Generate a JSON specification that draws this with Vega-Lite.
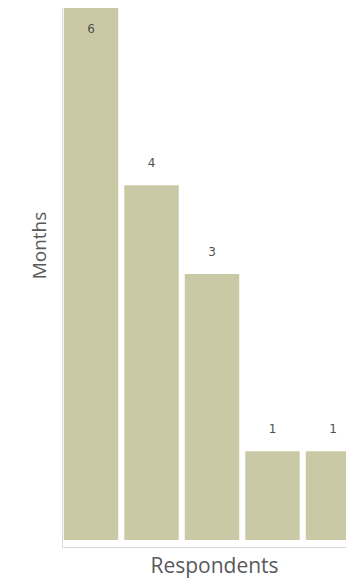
{
  "$schema": "https://vega.github.io/schema/vega-lite/v6.json",
  "autosize": {"type": "none"},
  "padding": {"left": 62, "top": 8, "right": 0, "bottom": 36},
  "width": 300,
  "height": 539,
  "background": "#ffffff",
  "config": {"view": {"stroke": null}},
  "data": {
    "values": [
      {"respondent": "R1", "months": 6},
      {"respondent": "R2", "months": 4},
      {"respondent": "R3", "months": 3},
      {"respondent": "R4", "months": 1},
      {"respondent": "R5", "months": 1}
    ]
  },
  "encoding": {
    "x": {
      "field": "respondent",
      "type": "nominal",
      "sort": null,
      "scale": {"paddingInner": 0.1, "paddingOuter": 0.03},
      "axis": {
        "title": "Respondents",
        "labels": false,
        "ticks": false,
        "domainColor": "#d9d9d9",
        "titleFont": "Open Sans",
        "titleFontSize": 21,
        "titleFontWeight": "normal",
        "titleColor": "#595959",
        "titleBaseline": "alphabetic",
        "titleX": 152,
        "titleY": 25
      }
    }
  },
  "layer": [
    {
      "mark": {"type": "bar", "color": "#c9c9a6"},
      "encoding": {
        "y": {
          "field": "months",
          "type": "quantitative",
          "scale": {"domain": [-0.08, 6], "nice": false, "zero": false},
          "axis": {
            "title": "Months",
            "labels": false,
            "ticks": false,
            "grid": false,
            "domainColor": "#d9d9d9",
            "titleFont": "Open Sans",
            "titleFontSize": 19,
            "titleFontWeight": "normal",
            "titleColor": "#595959",
            "titleBaseline": "middle",
            "titleX": -23,
            "titleY": 237
          }
        },
        "y2": {"datum": 0}
      }
    },
    {
      "transform": [{"filter": "datum.months < 6"}],
      "mark": {"type": "text", "dy": -22, "baseline": "middle", "font": "DejaVu Sans", "fontSize": 12, "color": "#505050"},
      "encoding": {
        "y": {"field": "months", "type": "quantitative"},
        "text": {"field": "months", "type": "quantitative"}
      }
    },
    {
      "transform": [{"filter": "datum.months >= 6"}],
      "mark": {"type": "text", "dy": 21, "baseline": "middle", "font": "DejaVu Sans", "fontSize": 12, "color": "#505050"},
      "encoding": {
        "y": {"field": "months", "type": "quantitative"},
        "text": {"field": "months", "type": "quantitative"}
      }
    }
  ]
}
